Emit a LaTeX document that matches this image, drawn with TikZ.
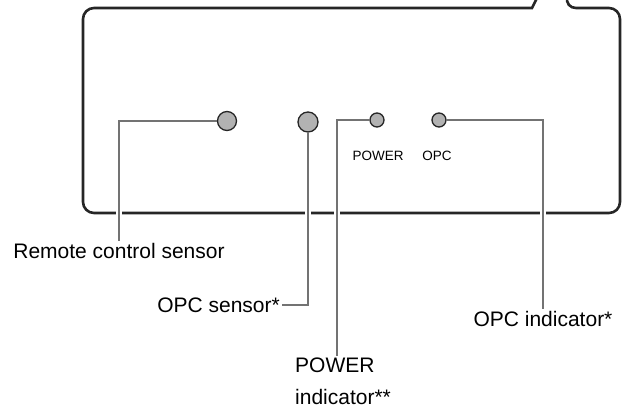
\documentclass[tikz,border=0pt]{standalone}
\usepackage{fontspec}
\setmainfont{Liberation Sans}
\begin{document}
\begin{tikzpicture}[x=1pt, y=-1pt,
  rim/.style={draw=black!85, line width=2.6pt},
  sensor/.style={circle, draw=black!85, fill=black!30, line width=1.3pt,
                 inner sep=0pt, minimum size=19pt},
  led/.style={sensor, minimum size=14pt},
  tag/.style={font=\fontsize{13.5}{16}\selectfont, inner sep=1pt},
  lbl/.style={font=\fontsize{21}{32}\selectfont, inner sep=2pt},
  lead/.style={draw=black!55, line width=1.8pt,
               preaction={draw=white, line width=6pt}},
]
  \useasboundingbox (0,0) rectangle (629,410);

  \draw[rim] (537,-2) -- (532,8) [rounded corners=11pt] -- (83,8) -- (83,213)
    -- (620,213) -- (620,8) -- (565,8) [sharp corners] -- (567,-2);

  \node[sensor]                    (remote)    at (227,121) {};
  \node[sensor, minimum size=20pt] (opcsensor) at (308,122) {};
  \node[led]                       (powerled)  at (377,120) {};
  \node[led]                       (opcled)    at (439,120) {};

  \node[tag] (powertxt) at (378,156) {POWER};
  \node[tag] (opctxt)   at (437,156) {OPC};

  \node[lbl]                          (remotelbl)    at (119,251) {Remote control sensor};
  \node[lbl, anchor=east]             (opcsensorlbl) at (282,305) {OPC sensor*};
  \node[lbl, align=left, anchor=north west] (powerlbl) at (293,356) {POWER\\indicator**};
  \node[lbl]                          (opcindlbl)    at (543,319) {OPC indicator*};

  \draw[lead] (remote.west) -| (remotelbl.north);
  \draw[lead] (opcsensor.south) |- (opcsensorlbl.east);
  \draw[lead] (powerled.west) -| ([xshift=44pt]powerlbl.north west);
  \draw[lead] (opcled.east) -| (opcindlbl.north);
\end{tikzpicture}
\end{document}
